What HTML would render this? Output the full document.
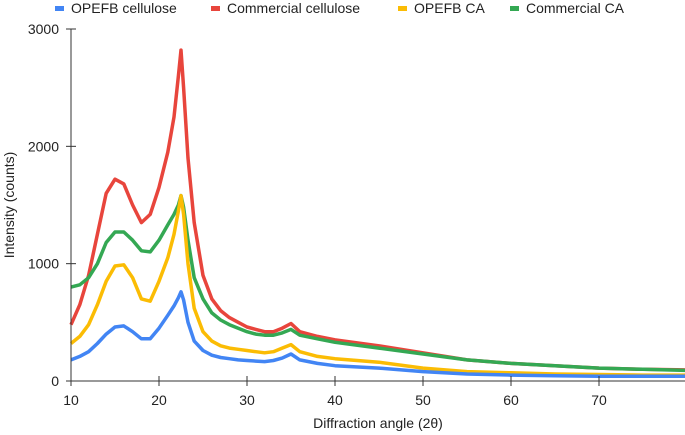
<!DOCTYPE html>
<html><head><meta charset="utf-8"><style>
body{margin:0;background:#fff;}
svg{display:block;font-family:"Liberation Sans",Arial,sans-serif;}
</style></head><body>
<svg id="chart" width="685" height="435">
<g id="legend"></g>
<g id="series"></g>
<g id="axes"></g>
<text x="378" y="428" font-size="14" text-anchor="middle" fill="#222">Diffraction angle (2θ)</text>
<text transform="translate(14,205) rotate(-90)" font-size="14" text-anchor="middle" fill="#222">Intensity (counts)</text>
</svg>
<script>
const angles=[10,11,12,13,14,15,16,17,18,19,20,21,21.7,22.2,22.5,22.8,23.3,24,25,26,27,28,29,30,31,32,33,34,35,36,38,40,45,50,55,60,65,70,75,80];
const commercialCellulose=[480,650,900,1250,1600,1720,1680,1500,1350,1420,1650,1950,2250,2600,2820,2500,1900,1350,900,700,600,540,500,460,440,420,420,450,490,420,380,350,300,240,180,150,130,110,100,95];
const commercialCA=[800,820,880,1000,1180,1270,1270,1200,1110,1100,1200,1330,1420,1500,1580,1480,1200,880,700,580,520,480,450,420,400,390,390,410,440,390,360,330,280,230,180,150,130,110,100,90];
const opefbCA=[320,380,480,650,850,980,990,880,700,680,850,1050,1250,1450,1580,1420,1000,620,420,340,300,280,270,260,250,240,250,280,310,250,210,190,160,110,80,70,60,55,50,50];
const opefbCellulose=[180,210,250,320,400,460,470,420,360,360,450,560,640,710,760,690,500,340,260,220,200,190,180,175,170,165,175,195,230,180,150,130,110,80,60,50,45,40,40,40];
const xTicks=[10,20,30,40,50,60,70];
const yTicks=[0,1000,2000,3000];
const NS="http://www.w3.org/2000/svg";
const X0=71,X1=687,XMIN=10,XMAX=80,Y0=381,Y1=29,YMAX=3000;
const xs=v=>X0+(v-XMIN)/(XMAX-XMIN)*(X1-X0);
const ys=v=>Y0-v/YMAX*(Y0-Y1);
function mk(t,a,p){const e=document.createElementNS(NS,t);for(const k in a)e.setAttribute(k,a[k]);p.appendChild(e);return e;}
const series=[
 {name:"Commercial cellulose",vals:commercialCellulose,c:"#e8453c",key:"commercial-cellulose"},
 {name:"Commercial CA",vals:commercialCA,c:"#34a853",key:"commercial-ca"},
 {name:"OPEFB CA",vals:opefbCA,c:"#fbbc04",key:"opefb-ca"},
 {name:"OPEFB cellulose",vals:opefbCellulose,c:"#4285f4",key:"opefb-cellulose"}];
const sg=document.getElementById('series');
series.forEach(s=>{
 const d=s.vals.map((v,i)=>(i?'L':'M')+xs(angles[i]).toFixed(1)+','+ys(v).toFixed(1)).join(' ');
 const p=mk('path',{d:d,fill:'none',stroke:s.c,'stroke-width':3.5,'stroke-linejoin':'round'},sg);
 
 
});
const ag=document.getElementById('axes');
const xl=mk('line',{x1:X0,x2:685,y1:Y0,y2:Y0,stroke:'#333','stroke-width':1},ag);


const yl=mk('line',{x1:X0,x2:X0,y1:Y1,y2:Y0+5,stroke:'#333','stroke-width':1},ag);


xTicks.forEach(t=>{
 mk('line',{x1:xs(t),x2:xs(t),y1:Y0-5,y2:Y0+5,stroke:'#333'},ag);
 const tx=mk('text',{x:xs(t),y:Y0+24,'font-size':14,'text-anchor':'middle',fill:'#222'},ag);
 tx.textContent=t;
 
 
});
yTicks.forEach(t=>{
 mk('line',{x1:X0-5,x2:X0+5,y1:ys(t),y2:ys(t),stroke:'#333'},ag);
 const tx=mk('text',{x:X0-12,y:ys(t)+5,'font-size':14,'text-anchor':'end',fill:'#222'},ag);
 tx.textContent=t;
 
 
});
const lg=document.getElementById('legend');
const legendItems=[["OPEFB cellulose","#4285f4",55],["Commercial cellulose","#e8453c",211],["OPEFB CA","#fbbc04",398],["Commercial CA","#34a853",510]];
legendItems.forEach(it=>{
 const g=mk('g',{},lg);
 
 
 mk('rect',{x:it[2],y:6,width:9,height:5,fill:it[1]},g);
 const t=mk('text',{x:it[2]+16,y:13,'font-size':14,fill:'#222'},g);
 t.textContent=it[0];
});
</script>
</body></html>
